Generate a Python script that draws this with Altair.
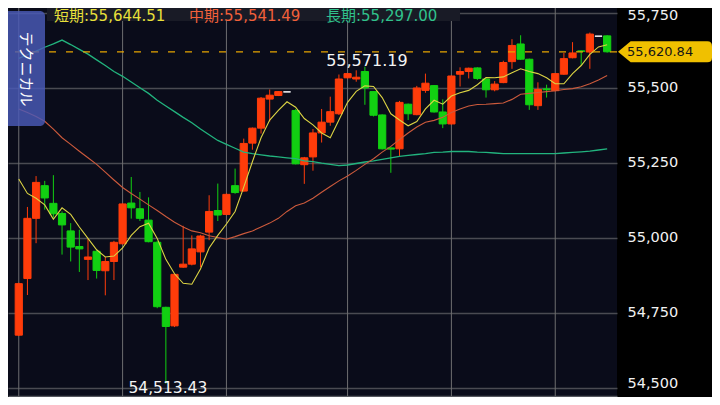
import altair as alt
import pandas as pd

# ---------------- data ----------------
idx = list(range(69))
opens = [54675, 54864, 55065, 55174, 55115, 55081, 55023, 54971, 54928, 54955,
         54890, 54921, 54980, 55116, 55097, 55059, 54985, 54768, 54706, 54902,
         54912, 54953, 55019, 55091, 55078, 55174, 55156, 55316, 55366, 55463,
         55475, 55487, 55425, 55244, 55270, 55350, 55386, 55414, 55534, 55530,
         55555, 55488, 55410, 55300, 55297, 55446, 55411, 55492, 55508, 55420,
         55380, 55546, 55555, 55567, 55530, 55494, 55518, 55588, 55647, 55596,
         55441, 55497, 55491, 55546, 55601, 55624, 55620, 55673, 55674]
highs = [54850, 55103, 55206, 55190, 55209, 55088, 55049, 55027, 54998, 54958,
         54936, 54990, 55115, 55203, 55153, 55135, 54990, 54770, 54880, 55040,
         55008, 55010, 55142, 55181, 55148, 55231, 55331, 55368, 55470, 55495,
         55490, 55487, 55430, 55270, 55363, 55430, 55471, 55545, 55550, 55559,
         55571.19, 55490, 55412, 55302, 55457, 55448, 55507, 55548, 55510, 55462,
         55542, 55569, 55568, 55569, 55532, 55523, 55591, 55663, 55676, 55598,
         55519, 55511, 55550, 55617, 55653, 55625, 55685, 55673, 55676]
lows = [54672, 54809, 54982, 55094, 55067, 54944, 54921, 54886, 54859, 54864,
        54808, 54859, 54978, 55064, 55056, 54985, 54765, 54513.43, 54702, 54900,
        54908, 54902, 54992, 55056, 55075, 55147, 55154, 55294, 55348, 55388,
        55473, 55487, 55245, 55180, 55224, 55318, 55374, 55410, 55532, 55521,
        55444, 55405, 55295, 55217, 55270, 55393, 55409, 55484, 55418, 55366,
        55378, 55505, 55532, 55527, 55468, 55489, 55516, 55564, 55594, 55427,
        55427, 55468, 55489, 55544, 55599, 55577, 55564, 55673, 55618]
closes = [54847, 55065, 55185, 55133, 55080, 55043, 54969, 54963, 54936, 54891,
          54921, 54985, 55113, 55100, 55065, 54987, 54770, 54704, 54878, 54912,
          54963, 55006, 55088, 55076, 55145, 55151, 55315, 55366, 55466, 55476,
          55488, 55487, 55247, 55267, 55350, 55386, 55421, 55530, 55548, 55536,
          55500, 55409, 55297, 55296, 55452, 55414, 55500, 55516, 55420, 55380,
          55540, 55555, 55566, 55532, 55494, 55513, 55585, 55642, 55596, 55444,
          55495, 55494, 55548, 55598, 55617, 55622, 55680, 55673, 55620.84]
ma_short = [55196, 55148, 55132, 55110, 55062, 55100, 55078, 55036, 54998, 54960,
            54936, 54939, 54966, 55008, 55037, 55049, 54998, 54928, 54880, 54848,
            54845, 54896, 54966, 55008, 55046, 55088, 55169, 55254, 55334, 55393,
            55425, 55454, 55436, 55398, 55377, 55350, 55334, 55393, 55452, 55489,
            55507, 55505, 55468, 55414, 55393, 55374, 55388, 55430, 55459, 55446,
            55473, 55484, 55492, 55511, 55535, 55534, 55537, 55551, 55564, 55555,
            55548, 55534, 55514, 55514, 55548, 55575, 55612, 55637, 55644.51]
ma_mid = [55430, 55418, 55405, 55389, 55363, 55334, 55312, 55289, 55267, 55245,
          55219, 55193, 55168, 55148, 55129, 55110, 55091, 55071, 55052, 55036,
          55023, 55017, 55007, 55001, 54995, 55004, 55014, 55023, 55036, 55049,
          55065, 55088, 55107, 55116, 55132, 55152, 55171, 55190, 55206, 55225,
          55245, 55264, 55286, 55305, 55328, 55350, 55370, 55386, 55392, 55402,
          55418, 55430, 55440, 55445, 55446, 55448, 55450, 55462, 55479, 55482,
          55485, 55488, 55491, 55495, 55498, 55504, 55514, 55527, 55541.49]
ma_long = [55599, 55611, 55623, 55636, 55647, 55660, 55645, 55629, 55613, 55594,
           55575, 55555, 55539, 55520, 55501, 55482, 55459, 55440, 55421, 55402,
           55384, 55363, 55344, 55325, 55312, 55299, 55286, 55281, 55277, 55273,
           55270, 55267, 55264, 55257, 55254, 55249, 55245, 55241, 55243, 55248,
           55253, 55257, 55262, 55267, 55272, 55275, 55278, 55281, 55285, 55286,
           55288, 55288, 55288, 55286, 55285, 55283, 55281, 55281, 55281, 55281,
           55281, 55281, 55281, 55283, 55285, 55287, 55289, 55293, 55297.00]
grid_idx = [0, 12, 24, 38, 50, 62]
y_ticks = [54500, 54750, 55000, 55250, 55500, 55750]
ma_names = ["短期", "中期", "長期"]
ma_latest = [55644.51, 55541.49, 55297.00]
ann_idx = [40, 17]
ann_val = [55571.19, 54513.43]
tab_label = "テクニカル"

# ---------------- styling ----------------
W, H = 609, 388
RED, GREEN, WHITE = "#ff3c0a", "#12d012", "#ffffff"
line_colors = ["#dcd444", "#cc5a3c", "#22b47e"]
line_widths = [1.1, 1.1, 1.3]
head_colors = ["#e8e03a", "#f2603a", "#30c28c"]
NUM_FONT = "DejaVu Sans, Noto Sans CJK JP"

df = pd.DataFrame(dict(i=idx, open=opens, high=highs, low=lows, close=closes,
                       s=ma_short, m=ma_mid, l=ma_long))

xs = alt.Scale(domain=[-0.667, 68.56], nice=False, zero=False)
ys = alt.Scale(domain=[54472, 55767], nice=False, zero=False)
xaxis = alt.Axis(labels=False, ticks=False, grid=False, domain=True,
                 domainColor="#55575e", domainWidth=1.5, title=None)
yaxis = alt.Axis(orient="right", values=y_ticks, format=",d", title=None,
                 labelFont="DejaVu Sans", labelFontSize=14.5, labelColor="#f2f2f2",
                 labelPadding=10, ticks=False, tickSize=0, domain=False,
                 grid=True, gridColor="#4a4b52", gridWidth=1.6,
                 labelFlush=False, labelOverlap=False,
                 labelBaseline={"condition": {"test": "datum.value <= 54500", "value": "alphabetic"},
                                "value": "middle"},
                 labelOffset={"condition": {"test": "datum.value >= 55750", "value": 2},
                              "value": 0})

X = alt.X("i:Q", scale=xs, axis=xaxis)
cscale = alt.Scale(domain=["up", "down", "flat"], range=[RED, GREEN, WHITE])

vgrid = alt.Chart(pd.DataFrame({"g": grid_idx})).mark_rule(
    color="#6e6e70", strokeWidth=1).encode(x=alt.X("g:Q", scale=xs, axis=xaxis))

candles = alt.Chart(df).transform_calculate(
    dir="datum.close > datum.open ? 'up' : (datum.close < datum.open ? 'down' : 'flat')")

wick = candles.mark_rule(strokeWidth=1).encode(
    x=X, y=alt.Y("low:Q", scale=ys, axis=yaxis), y2="high:Q",
    color=alt.Color("dir:N", scale=cscale, legend=None))

body = candles.mark_bar(size=7.2, strokeWidth=1).encode(
    x=X, y=alt.Y("open:Q", scale=ys, axis=yaxis), y2="close:Q",
    color=alt.Color("dir:N", scale=cscale, legend=None),
    stroke=alt.Stroke("dir:N", scale=cscale, legend=None))

lines = []
for col, k in zip(["l", "m", "s"], [2, 1, 0]):
    lines.append(alt.Chart(df).mark_line(color=line_colors[k], strokeWidth=line_widths[k]).encode(
        x=X, y=alt.Y(f"{col}:Q", scale=ys, axis=yaxis)))

cur = pd.DataFrame({"close": [closes[-1]], "label": [f"{closes[-1]:,.2f}"]})
dash = alt.Chart(cur).mark_rule(color="#e6a400", strokeWidth=1.3, strokeDash=[7, 10]).encode(
    y=alt.Y("close:Q", scale=ys, axis=yaxis))

TAG = "M-1,0L-0.73,-0.223L0.9,-0.223Q1,-0.223 1,-0.12L1,0.12Q1,0.223 0.9,0.223L-0.73,0.223Z"
tag = alt.Chart(cur).mark_point(shape=TAG, size=8836, filled=True, color="#f0c000",
                                opacity=1, strokeWidth=0).encode(
    x=alt.value(657), y=alt.Y("close:Q", scale=ys, axis=yaxis))
tagtext = alt.Chart(cur).mark_text(align="left", baseline="middle", font="DejaVu Sans",
                                   fontSize=13, color="#151515", dy=0.5).encode(
    x=alt.value(619), y=alt.Y("close:Q", scale=ys, axis=yaxis), text="label:N")

# annotations of high / low
annA_df = pd.DataFrame({"i": [ann_idx[0]], "v": [ann_val[0]], "label": [f"{ann_val[0]:,.2f}"]})
annB_df = pd.DataFrame({"i": [ann_idx[1]], "v": [ann_val[1]], "label": [f"{ann_val[1]:,.2f}"]})
annA = alt.Chart(annA_df).mark_text(align="center", baseline="alphabetic", font="DejaVu Sans",
                                    fontSize=16, color="#f4f4f4", dx=2, dy=-1).encode(
    x=X, y=alt.Y("v:Q", scale=ys, axis=yaxis), text="label:N")
annB = alt.Chart(annB_df).mark_text(align="center", baseline="alphabetic", font="DejaVu Sans",
                                    fontSize=15.5, color="#f4f4f4", dx=2, dy=9.5).encode(
    x=X, y=alt.Y("v:Q", scale=ys, axis=yaxis), text="label:N")

# side tab
tab_df = pd.DataFrame({"t": [tab_label]})
tab = alt.Chart(tab_df).mark_rect(color="#4a5ab8", opacity=0.82, cornerRadius=5).encode(
    x=alt.value(-10), x2=alt.value(37), y=alt.value(3), y2=alt.value(118))
tabtext = alt.Chart(tab_df).mark_text(angle=90, align="center", baseline="middle",
                                      font="Noto Sans CJK JP", fontSize=15, color="#ffffff").encode(
    x=alt.value(18), y=alt.value(61), text="t:N")

# header
head_df = pd.DataFrame({"t": [""]})
head_rect = alt.Chart(head_df).mark_rect(color="#191b26").encode(
    x=alt.value(39), x2=alt.value(452), y=alt.value(0), y2=alt.value(13))
head_x = [46, 181, 318]
heads = []
for name, val, c, px in zip(ma_names, ma_latest, head_colors, head_x):
    hdf = pd.DataFrame({"t": [f"{name}:{val:,.2f}"]})
    heads.append(alt.Chart(hdf).mark_text(align="left", baseline="alphabetic", font=NUM_FONT,
                                          fontSize=15, color=c).encode(
        x=alt.value(px), y=alt.value(12.5), text="t:N"))

chart = alt.layer(
    vgrid, wick, body, *lines, dash, tab, tabtext, head_rect, *heads,
    annA, annB, tag, tagtext
).properties(
    width=W, height=H, background="#000000",
    padding={"left": 0, "top": 0, "right": 95, "bottom": 1},
    autosize=alt.AutoSizeParams(type="none"),
).configure_view(fill="#0a0c1a", stroke=None)

chart.save("out.html", embed_options={"renderer": "svg", "actions": False})
